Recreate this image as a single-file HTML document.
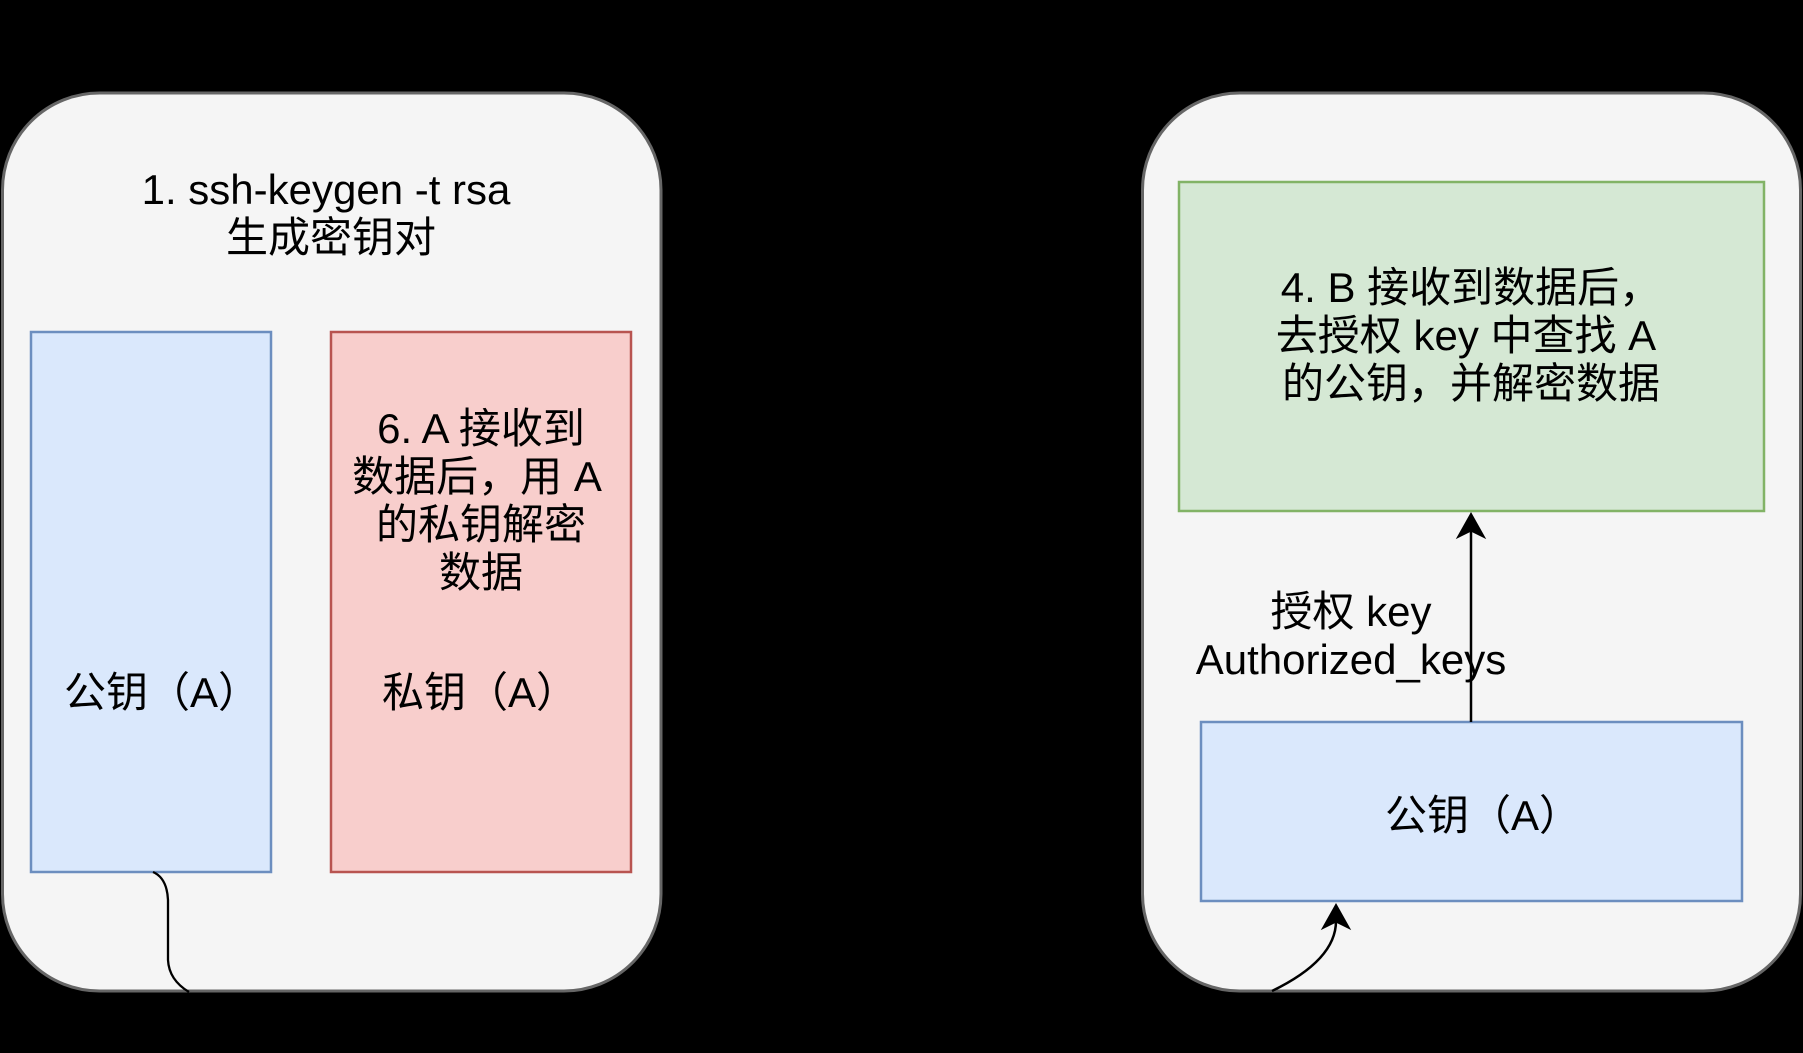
<!DOCTYPE html>
<html>
<head>
<meta charset="utf-8">
<style>
  html, body { margin: 0; padding: 0; background: #000; }
  body { width: 1803px; height: 1053px; overflow: hidden; }
  svg { display: block; }
  text { font-family: "Liberation Sans", "Noto Sans CJK SC", sans-serif; font-size: 42px; fill: #000; }
</style>
</head>
<body>
<svg width="1803" height="1053" viewBox="0 0 1803 1053" xmlns="http://www.w3.org/2000/svg">
  <rect x="0" y="0" width="1803" height="1053" fill="#000"/>

  <!-- Left container -->
  <rect x="2.5" y="93" width="658.5" height="898" rx="97" ry="97" fill="#f5f5f5" stroke="#666666" stroke-width="3"/>
  <!-- Right container -->
  <rect x="1142.5" y="93" width="658" height="898" rx="97" ry="97" fill="#f5f5f5" stroke="#666666" stroke-width="3"/>

  <!-- Left public key box -->
  <rect x="31" y="332" width="240" height="540" fill="#dae8fc" stroke="#6c8ebf" stroke-width="2.5"/>
  <!-- Left private key box -->
  <rect x="331" y="332" width="300" height="540" fill="#f8cecc" stroke="#b85450" stroke-width="2.5"/>

  <!-- Right green box -->
  <rect x="1179" y="182" width="585" height="329" fill="#d5e8d4" stroke="#82b366" stroke-width="2.5"/>
  <!-- Right public key box -->
  <rect x="1201" y="722" width="541" height="179" fill="#dae8fc" stroke="#6c8ebf" stroke-width="2.5"/>

  <!-- Left title text -->
  <text x="326" y="204" text-anchor="middle">1. ssh-keygen -t rsa</text>
  <text x="331" y="252" text-anchor="middle">生成密钥对</text>

  <!-- Red box text -->
  <text x="481" y="443" text-anchor="middle">6. A 接收到</text>
  <text x="477" y="491" text-anchor="middle">数据后，用 A</text>
  <text x="481" y="539" text-anchor="middle">的私钥解密</text>
  <text x="481" y="587" text-anchor="middle">数据</text>

  <text x="162" y="707" text-anchor="middle">公钥（A）</text>
  <text x="480" y="707" text-anchor="middle">私钥（A）</text>

  <!-- Green box text -->
  <text x="1471" y="302" text-anchor="middle">4. B 接收到数据后，</text>
  <text x="1466" y="350" text-anchor="middle">去授权 key 中查找 A</text>
  <text x="1471" y="398" text-anchor="middle">的公钥，并解密数据</text>

  <!-- Vertical arrow from public key box to green box -->
  <line x1="1471" y1="722" x2="1471" y2="528" stroke="#000" stroke-width="2.5"/>
  <path d="M1471,513 L1485,538 L1471,531 L1457,538 Z" fill="#000" stroke="#000" stroke-width="1"/>

  <!-- Edge label -->
  <text x="1351" y="626" text-anchor="middle">授权 key</text>
  <text x="1351" y="674" text-anchor="middle">Authorized_keys</text>

  <!-- Right public key box text -->
  <text x="1483" y="830" text-anchor="middle">公钥（A）</text>

  <!-- Curved arrow entering right public key box from bottom -->
  <path d="M1272,991 Q1336,960 1336,921" fill="none" stroke="#000" stroke-width="2.5"/>
  <path d="M1336,904 L1350,929 L1336,922 L1322,929 Z" fill="#000" stroke="#000" stroke-width="1"/>

  <!-- Left connector leaving public key box -->
  <path d="M153,872 Q167,878 168,900 L168,960 Q169,980 189,992" fill="none" stroke="#000" stroke-width="2.3"/>
</svg>
</body>
</html>
